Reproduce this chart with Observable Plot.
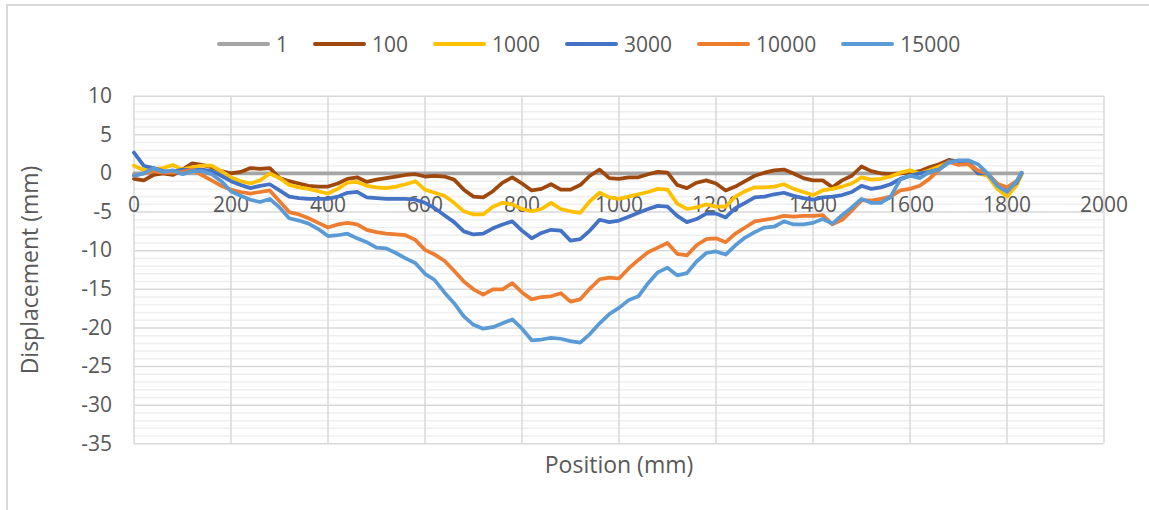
<!DOCTYPE html>
<html>
<head>
<meta charset="utf-8">
<script src="https://cdn.jsdelivr.net/npm/d3@7"></script>
<script src="https://cdn.jsdelivr.net/npm/@observablehq/plot@0.6"></script>
<style>
  body { margin: 0; background: #fff; font-family: "Open Sans", sans-serif; color: #595959; }
  #wrap { position: relative; width: 1149px; height: 510px; overflow: hidden; background: #fff; }
  #frame { position: absolute; left: 6px; top: 4px; width: 1200px; height: 600px;
           border-left: 2px solid #d9d9d9; border-top: 2px solid #d9d9d9; box-sizing: border-box; }
  #legend { position: absolute; top: 30px; left: 217px; height: 28px; display: flex; align-items: center; }
  .item { display: flex; align-items: center; margin-right: 25px; font-size: 21px; line-height: 28px; }
  .sw { width: 53px; height: 4px; margin-right: 6px; border-radius: 2px; }
  #chart { position: absolute; top: 70px; left: 0; }
</style>
</head>
<body>
<div id="wrap">
  <div id="frame"></div>
  <div id="legend"></div>
  <div id="chart"></div>
</div>
<script>
// ---------- data ----------
const seriesNames = ["1", "100", "1000", "3000", "10000", "15000"];
const seriesColors = ["#A5A5A5", "#9E480E", "#FFC000", "#4472C4", "#ED7D31", "#5B9BD5"];

const xTicks = [0, 200, 400, 600, 800, 1000, 1200, 1400, 1600, 1800, 2000];
const yTicks = [10, 5, 0, -5, -10, -15, -20, -25, -30, -35];

// position (mm) for the measured series
const positions = [
  0, 20, 40, 60, 80, 100, 120, 140, 160, 180,
  200, 220, 240, 260, 280, 300, 320, 340, 360, 380,
  400, 420, 440, 460, 480, 500, 520, 540, 560, 580,
  600, 620, 640, 660, 680, 700, 720, 740, 760, 780,
  800, 820, 840, 860, 880, 900, 920, 940, 960, 980,
  1000, 1020, 1040, 1060, 1080, 1100, 1120, 1140, 1160, 1180,
  1200, 1220, 1240, 1260, 1280, 1300, 1320, 1340, 1360, 1380,
  1400, 1420, 1440, 1460, 1480, 1500, 1520, 1540, 1560, 1580,
  1600, 1620, 1640, 1660, 1680, 1700, 1720, 1740, 1760, 1780,
  1800, 1820, 1830
];

// series "1" is the reference (zero) line
const positions1 = [0, 1830];
const values1 = [0, 0];

const values100 = [
  -0.7, -0.9, -0.2, 0.0, -0.2, 0.5, 1.3, 1.1, 0.8, 0.3,
  0.0, 0.2, 0.7, 0.6, 0.7, -0.6, -1.0, -1.3, -1.6, -1.7,
  -1.7, -1.3, -0.7, -0.5, -1.1, -0.8, -0.6, -0.4, -0.2, -0.1,
  -0.4, -0.3, -0.4, -0.8, -2.1, -3.0, -3.1, -2.3, -1.2, -0.5,
  -1.3, -2.2, -2.0, -1.4, -2.1, -2.1, -1.5, -0.3, 0.5, -0.6,
  -0.7, -0.5, -0.5, -0.1, 0.2, 0.1, -1.5, -1.9, -1.2, -0.9,
  -1.3, -2.2, -1.7, -1.0, -0.3, 0.1, 0.4, 0.5, 0.0, -0.6,
  -0.9, -0.9, -1.8, -0.9, -0.3, 0.9, 0.3, 0.0, -0.1, 0.0,
  0.1, 0.3, 0.8, 1.2, 1.75, 1.5, 1.4, 0.3, -0.2, -1.6,
  -2.3, -1.3, 0.0
];

const values1000 = [
  1.0, 0.45, 0.6, 0.7, 1.1, 0.5, 0.8, 1.0, 1.0, 0.3,
  -0.5, -1.0, -1.3, -0.9, 0.0, -0.6, -1.5, -1.8, -2.0, -2.3,
  -2.6, -2.0, -1.2, -1.1, -1.6, -1.8, -1.9, -1.7, -1.4, -1.0,
  -2.1, -2.5, -2.9, -3.8, -4.9, -5.3, -5.3, -4.3, -3.8, -4.0,
  -4.6, -4.9, -4.6, -3.8, -4.6, -4.9, -5.1, -3.6, -2.5, -3.1,
  -3.3, -3.0, -2.7, -2.4, -2.0, -2.1, -3.9, -4.6, -4.4, -4.0,
  -4.3, -4.3, -3.0, -2.3, -1.8, -1.8, -1.7, -1.4, -2.0, -2.4,
  -2.8, -2.2, -2.0, -1.7, -1.3, -0.5, -0.8, -0.7, -0.4, 0.1,
  0.4, 0.0, 0.4, 0.9, 1.45, 1.45, 1.2, 0.0, -0.3, -2.0,
  -3.0, -1.5, -0.2
];

const values3000 = [
  2.7, 1.0, 0.7, 0.3, 0.2, 0.5, 0.4, 0.5, 0.3, -0.3,
  -1.0, -1.5, -1.9, -1.6, -1.4, -2.2, -3.0, -3.2, -3.3, -3.3,
  -3.3, -3.0, -2.5, -2.4, -3.1, -3.2, -3.3, -3.3, -3.3, -3.4,
  -3.8, -4.5, -5.4, -6.3, -7.5, -7.9, -7.8, -7.1, -6.6, -6.2,
  -7.4, -8.4, -7.7, -7.3, -7.4, -8.7, -8.5, -7.4, -6.0, -6.3,
  -6.1, -5.6, -5.1, -4.6, -4.2, -4.3, -5.5, -6.3, -5.9, -5.2,
  -5.2, -5.7, -4.5, -3.8, -3.1, -3.0, -2.7, -2.5, -2.9, -3.2,
  -3.4, -3.1, -3.0, -2.8, -2.4, -1.6, -2.0, -1.8, -1.4, -0.7,
  -0.3, 0.0, 0.2, 0.5, 1.6, 1.5, 1.5, 0.0, 0.0, -1.4,
  -2.0, -1.2, 0.0
];

const values10000 = [
  -0.3, 0.0, 0.3, 0.1, 0.1, 0.2, 0.5, -0.2, -0.9, -1.6,
  -2.1, -2.4, -2.6, -2.4, -2.2, -3.6, -5.0, -5.3, -5.8, -6.4,
  -7.0, -6.6, -6.4, -6.6, -7.3, -7.6, -7.8, -7.9, -8.0, -8.6,
  -9.9, -10.5, -11.3, -12.6, -14.0, -15.0, -15.7, -15.0, -15.0, -14.2,
  -15.4, -16.3, -16.0, -15.9, -15.5, -16.6, -16.3, -14.9, -13.7, -13.5,
  -13.6, -12.3, -11.2, -10.2, -9.6, -9.0, -10.4, -10.6, -9.3, -8.5,
  -8.4, -8.9, -7.8, -7.0, -6.2, -6.0, -5.8, -5.5, -5.6, -5.5,
  -5.5, -5.4, -6.6, -6.0, -4.8, -3.5, -3.5, -3.3, -3.0, -2.2,
  -2.0, -1.6, -0.7, 0.5, 1.5, 1.1, 1.2, 0.4, 0.0, -1.35,
  -1.8, -1.0, 0.1
];

const values15000 = [
  -0.3, 0.0, 0.7, 0.2, 0.4, -0.1, 0.3, 0.3, -0.1, -1.0,
  -2.3, -2.9, -3.4, -3.7, -3.3, -4.4, -5.8, -6.1, -6.5, -7.2,
  -8.1, -8.0, -7.8, -8.4, -8.9, -9.6, -9.7, -10.3, -11.0, -11.6,
  -13.0, -13.8, -15.4, -16.8, -18.5, -19.6, -20.1, -19.9, -19.4, -18.9,
  -20.1, -21.6, -21.5, -21.3, -21.4, -21.7, -21.9, -20.8, -19.4, -18.2,
  -17.4, -16.4, -15.9, -14.2, -12.8, -12.2, -13.2, -12.9, -11.4, -10.3,
  -10.1, -10.5, -9.3, -8.3, -7.6, -7.0, -6.9, -6.2, -6.6, -6.6,
  -6.4, -5.9, -6.5, -5.4, -4.4, -3.3, -3.8, -3.8, -3.0, -0.8,
  -0.3, -0.6, 0.2, 0.5, 1.4, 1.7, 1.7, 1.2, 0.0, -1.6,
  -2.4, -1.0, 0.1
];

// ---------- build table ----------
const seriesValues = [values1, values100, values1000, values3000, values10000, values15000];
const seriesPositions = [positions1, positions, positions, positions, positions, positions];
const data = [];
seriesNames.forEach((name, k) => {
  seriesPositions[k].forEach((x, i) => data.push({x, y: seriesValues[k][i], series: name}));
});

const yMinor = d3.range(-35, 11).filter(v => v % 5 !== 0);

// ---------- legend ----------
const legend = document.getElementById("legend");
seriesNames.forEach((name, k) => {
  const item = document.createElement("div");
  item.className = "item";
  const sw = document.createElement("div");
  sw.className = "sw";
  sw.style.background = seriesColors[k];
  const label = document.createElement("span");
  label.textContent = name;
  item.appendChild(sw);
  item.appendChild(label);
  legend.appendChild(item);
});

// ---------- chart ----------
const chart = Plot.plot({
  width: 1149,
  height: 440,
  marginTop: 25.7,
  marginBottom: 66.7,
  marginLeft: 133.5,
  marginRight: 45.5,
  x: {domain: [0, 2000], axis: null},
  y: {domain: [-35, 10], axis: null},
  color: {domain: seriesNames, range: seriesColors},
  style: {fontFamily: '"Open Sans", sans-serif', color: "#595959", background: "transparent", overflow: "visible"},
  marks: [
    Plot.ruleY(yMinor, {stroke: "#efefef", strokeWidth: 1.5}),
    Plot.ruleY(yTicks, {stroke: "#d9d9d9", strokeWidth: 1.5}),
    Plot.ruleX(xTicks, {stroke: "#d9d9d9", strokeWidth: 1.5}),
    Plot.axisY(yTicks, {tickSize: 0, tickPadding: 22, fontSize: 21, label: null, tickFormat: d => String(d)}),
    Plot.text(xTicks, {x: d => d, y: () => 0, dy: 32, text: d => String(d), fontSize: 21, fill: "#595959"}),
    Plot.line(data, {x: "x", y: "y", z: "series", stroke: "series", strokeWidth: 3.75, strokeLinejoin: "round", strokeLinecap: "round"}),
    Plot.text(["Position (mm)"], {text: d => d, frameAnchor: "bottom", dy: 22, lineAnchor: "middle", fontSize: 23, fill: "#595959"}),
    Plot.text(["Displacement (mm)"], {text: d => d, frameAnchor: "left", dx: -103.5, rotate: -90, lineAnchor: "middle", textAnchor: "middle", fontSize: 23, fill: "#595959"})
  ]
});
document.getElementById("chart").appendChild(chart);
</script>
</body>
</html>
